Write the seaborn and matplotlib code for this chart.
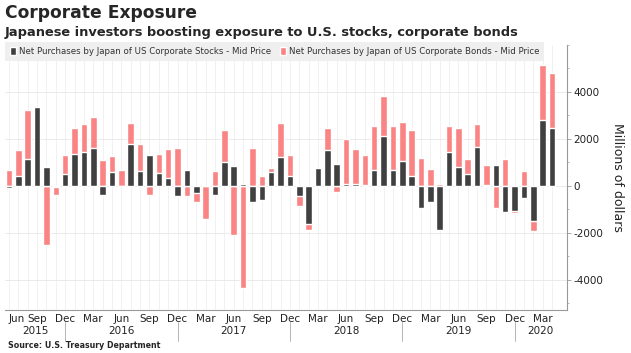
import numpy as np
import pandas as pd
import matplotlib
matplotlib.use("Agg")
import matplotlib.pyplot as plt
import matplotlib.transforms as mtransforms
import seaborn as sns

# ── Data (millions of USD, monthly net purchases) ─────────────────────────────
months = pd.period_range("2015-06", "2020-04", freq="M")

stocks = [
    -90, 420, 1120, 3370, 800, -50, 520,                                  # 2015
    1370, 1440, 1600, -380, 590, 0, 1760, 630, 1290, 560, 310, -450,      # 2016
    690, -310, 0, -400, 1000, 850, 80, -690, -590, 605, 1230, 405,        # 2017
    -450, -1615, 750, 1540, 930, 60, 80, 10, 680, 2130, 690, 1060,        # 2018
    405, -930, -690, -1870, 1430, 790, 520, 1630, 50, 900, -1120, -1090,  # 2019
    -505, -1490, 2800, 2440,                                              # 2020
]
bonds = [
    690, 1095, 2100, 0, -2540, -340, 780,
    1100, 1210, 1340, 1090, 670, 650, 900, 1140, -390, 780, 1240, 1600,
    -450, -400, -1430, 630, 1370, -2110, -4360, 1620, 405, 160, 1460, 925,
    -430, -255, -50, 910, -250, 1940, 1480, 1320, 1860, 1690, 1840, 1640,
    1965, 1190, 720, 80, 1110, 1650, 640, 1020, 840, -950, 1130, -70,
    635, -455, 2350, 2380,
]
years = ["2015", "2016", "2017", "2018", "2019", "2020"]

STOCK_LABEL = "Net Purchases by Japan of US Corporate Stocks - Mid Price"
BOND_LABEL = "Net Purchases by Japan of US Corporate Bonds - Mid Price"

DARK = "#404040"
PINK = "#fa8483"
GRID = "#e6e6e6"
AXIS = "#999999"

# ── Style ─────────────────────────────────────────────────────────────────────
sns.set_theme(style="white")
plt.rcParams["font.family"] = ["DejaVu Sans"]
plt.rcParams["axes.unicode_minus"] = False

df = pd.DataFrame({"Month": months.strftime("%Y-%m"), "Stocks": stocks, "Bonds": bonds})
# bonds stack on stocks when both go the same way, otherwise start at zero
same_sign = np.sign(df["Stocks"]) == np.sign(df["Bonds"])
df["BondsEnd"] = np.where(same_sign, df["Stocks"] + df["Bonds"], df["Bonds"])

fig = plt.figure(figsize=(6.31, 3.53), dpi=100)
ax = fig.add_axes([5 / 631, 1 - 310 / 353, 562 / 631, 265 / 353])

sns.barplot(data=df, x="Month", y="BondsEnd", color=PINK, saturation=1,
            width=0.7, errorbar=None, label=BOND_LABEL, ax=ax, zorder=2)
sns.barplot(data=df, x="Month", y="Stocks", color=DARK, saturation=1,
            width=0.7, errorbar=None, label=STOCK_LABEL, ax=ax, zorder=3)

ax.set_xlim(-0.43, len(df) + 0.6)
ax.set_ylim(-5300, 6000)

# ── Axes ──────────────────────────────────────────────────────────────────────
ax.yaxis.tick_right()
ax.set_yticks([-4000, -2000, 0, 2000, 4000])
ax.set_yticks(np.arange(-5000, 6001, 1000), minor=True)
ax.set_xticks(range(len(df)))
ax.set_xticklabels([m.strftime("%b") if m.month % 3 == 0 else "" for m in months])
ax.get_xticklabels()[0].set_horizontalalignment("left")
ax.set_xlabel("")
ax.set_ylabel("")

ax.grid(True, axis="y", which="major", color=GRID, linewidth=0.6)
ax.grid(True, axis="x", which="major", color="#ececec", linewidth=0.5)
ax.set_axisbelow(True)
for s in ("top", "left"):
    ax.spines[s].set_visible(False)
for s in ("right", "bottom"):
    ax.spines[s].set_color(AXIS)
    ax.spines[s].set_linewidth(0.8)

ax.tick_params(axis="x", length=2, width=0.6, color=AXIS, labelsize=7.5,
               pad=1.2, labelcolor="#222222")
ax.tick_params(axis="y", which="major", length=3, width=0.6, color=AXIS,
               labelsize=7.5, pad=1.5, labelcolor="#222222")
ax.tick_params(axis="y", which="minor", length=1.5, width=0.5, color=AXIS)

fig.text(617 / 631, 1 - 177 / 353, "Millions of dollars", rotation=270,
         ha="center", va="center", fontsize=9, color="#222222")

# year labels under the month ticks, split at each December
trans = mtransforms.blended_transform_factory(ax.transData, ax.transAxes)
decs = [i for i, m in enumerate(months) if m.month == 12]
edges = [ax.get_xlim()[0]] + decs + [ax.get_xlim()[1]]
for yr, a, b in zip(years, edges[:-1], edges[1:]):
    ax.text((a + b) / 2, -0.08, yr, transform=trans, ha="center", va="center",
            fontsize=7.5, color="#222222")
for d in decs:
    ax.plot([d, d], [-0.045, -0.117], transform=trans, color="#aaaaaa",
            linewidth=0.6, clip_on=False)

# ── Legend ────────────────────────────────────────────────────────────────────
handles, labels = ax.get_legend_handles_labels()
order = [labels.index(STOCK_LABEL), labels.index(BOND_LABEL)]
leg = ax.legend([handles[i] for i in order], [labels[i] for i in order],
                ncol=2, loc="upper left", bbox_to_anchor=(0, 1.01), frameon=True,
                fancybox=False, facecolor="#efefef", edgecolor="#efefef",
                framealpha=1, fontsize=6.2, handlelength=0.75, handleheight=1.0,
                handletextpad=0.3, columnspacing=1.0, borderpad=0.55,
                borderaxespad=0, labelcolor="#333333")
leg.get_frame().set_linewidth(0)

# ── Titles ────────────────────────────────────────────────────────────────────
fig.text(0.008, 0.99, "Corporate Exposure", fontsize=12.3, weight="bold", va="top")
fig.text(0.008, 0.925, "Japanese investors boosting exposure to U.S. stocks, corporate bonds",
         fontsize=9.35, weight="bold", va="top")
fig.text(0.013, 0.022, "Source: U.S. Treasury Department", fontsize=5.7,
         weight="bold", va="center")

fig.savefig("out.png", dpi=100)
